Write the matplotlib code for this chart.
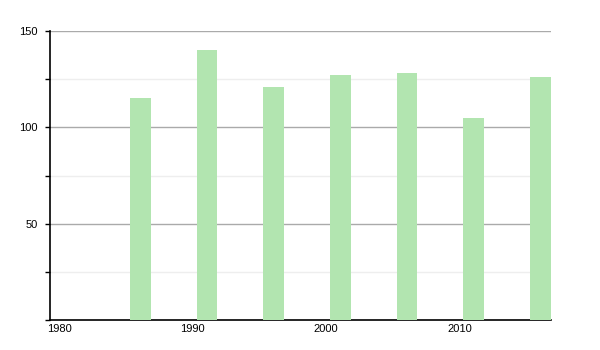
import numpy as np
import matplotlib.pyplot as plt
from matplotlib.ticker import MultipleLocator
from matplotlib.transforms import ScaledTranslation

# data
years = [1986, 1991, 1996, 2001, 2006, 2011, 2016]
values = [115, 140, 121, 127, 128, 105, 126]
xticks = [1980, 1990, 2000, 2010]
yticks = [50, 100, 150]

plt.rcParams['font.family'] = ['Liberation Sans', 'DejaVu Sans']

fig = plt.figure(figsize=(6, 3.5), dpi=100)
ax = fig.add_axes([50/600, 30/350, 501/600, 289/350])

ax.bar(years, values, width=1.55, align='edge', color='#b2e5b0', zorder=3)

ax.set_xlim(1980, 2017.58)
ax.set_ylim(0, 150)

ax.set_yticks(yticks)
ax.yaxis.set_minor_locator(MultipleLocator(25))
ax.grid(axis='y', which='major', color='#aaaaaa', lw=1, zorder=1)
ax.grid(axis='y', which='minor', color='#eeeeee', lw=1, zorder=1)
ax.tick_params(axis='y', which='both', length=3.6, width=1, color='black',
               labelsize=8, pad=5)

ax.set_xticks(xticks)
ax.set_xticklabels([str(x) for x in xticks], ha='left')
ax.tick_params(axis='x', length=0, labelsize=8, pad=3)
shift = ScaledTranslation(-3/100, 0, fig.dpi_scale_trans)
for lab in ax.get_xticklabels():
    lab.set_transform(lab.get_transform() + shift)

for s in ['top', 'right']:
    ax.spines[s].set_visible(False)
ax.spines['left'].set_linewidth(1.2)
ax.spines['bottom'].set_linewidth(1.2)
ax.set_axisbelow(True)

fig.savefig('out.png', dpi=100)
